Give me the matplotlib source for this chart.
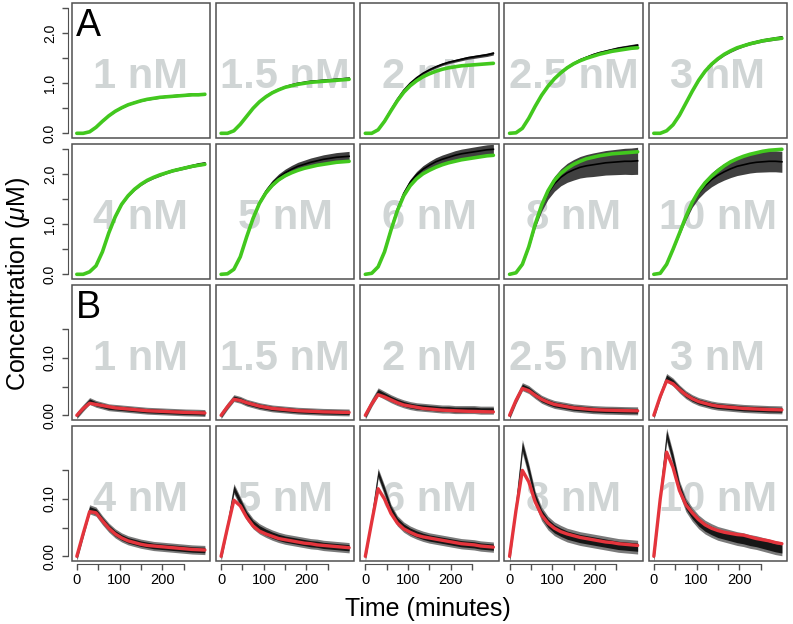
import numpy as np
import matplotlib.pyplot as plt
from matplotlib.patches import Rectangle

plt.rcParams['font.family'] = ['Liberation Sans', 'DejaVu Sans']
plt.rcParams['mathtext.fontset'] = 'custom'
plt.rcParams['mathtext.rm'] = 'Liberation Sans'
plt.rcParams['mathtext.it'] = 'Liberation Sans:italic'

time_min = [0, 15, 30, 45, 60, 75, 90, 105, 120, 135, 150, 165, 180, 195, 210, 225, 240, 255, 270, 285, 300]
conc_labels = ['1 nM', '1.5 nM', '2 nM', '2.5 nM', '3 nM', '4 nM', '5 nM', '6 nM', '8 nM', '10 nM']

# panel A: fit (green), measured mean (black) and spread (grey)
a_fit_1 = [0, 0.0, 0.03, 0.12, 0.24, 0.35, 0.44, 0.51, 0.57, 0.61, 0.65, 0.68, 0.70, 0.72, 0.73, 0.74, 0.75, 0.76, 0.77, 0.77, 0.78]
a_dat_1 = [0, 0.0, 0.03, 0.12, 0.24, 0.35, 0.44, 0.51, 0.57, 0.62, 0.65, 0.68, 0.70, 0.72, 0.74, 0.75, 0.76, 0.77, 0.78, 0.78, 0.79]
a_sd_1 = [0, 0.003, 0.005, 0.008, 0.01, 0.012, 0.013, 0.014, 0.015, 0.016, 0.017, 0.018, 0.019, 0.02, 0.021, 0.022, 0.023, 0.024, 0.025, 0.026, 0.027]

a_fit_1_5 = [0, 0.0, 0.05, 0.18, 0.34, 0.50, 0.63, 0.73, 0.81, 0.87, 0.92, 0.95, 0.98, 1.00, 1.02, 1.03, 1.04, 1.05, 1.06, 1.07, 1.08]
a_dat_1_5 = [0, 0.0, 0.05, 0.18, 0.34, 0.50, 0.63, 0.74, 0.82, 0.88, 0.93, 0.97, 1.00, 1.02, 1.04, 1.05, 1.06, 1.07, 1.08, 1.09, 1.10]
a_sd_1_5 = [0, 0.003, 0.005, 0.008, 0.01, 0.012, 0.014, 0.015, 0.016, 0.017, 0.018, 0.019, 0.02, 0.021, 0.022, 0.023, 0.024, 0.025, 0.026, 0.027, 0.028]

a_fit_2 = [0, 0.0, 0.07, 0.24, 0.45, 0.65, 0.82, 0.95, 1.05, 1.13, 1.19, 1.24, 1.28, 1.31, 1.33, 1.35, 1.36, 1.37, 1.38, 1.39, 1.40]
a_dat_2 = [0, 0.0, 0.07, 0.25, 0.47, 0.68, 0.86, 1.00, 1.11, 1.20, 1.27, 1.33, 1.38, 1.42, 1.45, 1.48, 1.51, 1.53, 1.55, 1.57, 1.60]
a_sd_2 = [0, 0.003, 0.006, 0.009, 0.012, 0.015, 0.017, 0.019, 0.021, 0.023, 0.024, 0.025, 0.026, 0.027, 0.028, 0.029, 0.03, 0.031, 0.032, 0.033, 0.034]

a_fit_2_5 = [0, 0.01, 0.10, 0.30, 0.54, 0.76, 0.94, 1.09, 1.21, 1.31, 1.39, 1.45, 1.50, 1.54, 1.58, 1.61, 1.64, 1.66, 1.68, 1.70, 1.71]
a_dat_2_5 = [0, 0.01, 0.10, 0.30, 0.54, 0.76, 0.95, 1.10, 1.22, 1.32, 1.40, 1.47, 1.52, 1.57, 1.61, 1.64, 1.67, 1.70, 1.72, 1.74, 1.76]
a_sd_2_5 = [0, 0.003, 0.006, 0.01, 0.013, 0.016, 0.019, 0.021, 0.023, 0.025, 0.027, 0.028, 0.03, 0.031, 0.032, 0.033, 0.034, 0.035, 0.036, 0.037, 0.038]

a_fit_3 = [0, 0.0, 0.05, 0.17, 0.36, 0.60, 0.84, 1.06, 1.24, 1.38, 1.49, 1.58, 1.65, 1.71, 1.75, 1.79, 1.82, 1.85, 1.87, 1.89, 1.90]
a_dat_3 = [0, 0.0, 0.05, 0.17, 0.36, 0.60, 0.84, 1.06, 1.24, 1.38, 1.49, 1.58, 1.65, 1.71, 1.76, 1.80, 1.83, 1.86, 1.88, 1.90, 1.92]
a_sd_3 = [0, 0.003, 0.006, 0.01, 0.013, 0.016, 0.019, 0.021, 0.023, 0.025, 0.027, 0.028, 0.03, 0.031, 0.032, 0.033, 0.034, 0.035, 0.036, 0.037, 0.038]

a_fit_4 = [0, 0.0, 0.05, 0.17, 0.45, 0.83, 1.15, 1.40, 1.57, 1.70, 1.80, 1.88, 1.94, 1.99, 2.03, 2.07, 2.10, 2.13, 2.16, 2.18, 2.20]
a_dat_4 = [0, 0.0, 0.05, 0.17, 0.45, 0.83, 1.15, 1.40, 1.57, 1.70, 1.80, 1.88, 1.94, 1.99, 2.04, 2.08, 2.11, 2.14, 2.17, 2.20, 2.22]
a_sd_4 = [0, 0.003, 0.006, 0.01, 0.013, 0.016, 0.019, 0.021, 0.023, 0.025, 0.026, 0.027, 0.028, 0.029, 0.03, 0.031, 0.032, 0.033, 0.034, 0.035, 0.036]

a_fit_5 = [0, 0.01, 0.10, 0.35, 0.75, 1.12, 1.42, 1.63, 1.78, 1.89, 1.97, 2.03, 2.08, 2.12, 2.15, 2.18, 2.20, 2.22, 2.24, 2.25, 2.26]
a_dat_5 = [0, 0.01, 0.10, 0.35, 0.75, 1.13, 1.44, 1.66, 1.82, 1.94, 2.03, 2.10, 2.16, 2.20, 2.24, 2.27, 2.30, 2.32, 2.34, 2.35, 2.36]
a_sd_5 = [0, 0.003, 0.008, 0.015, 0.025, 0.035, 0.045, 0.055, 0.062, 0.068, 0.073, 0.077, 0.08, 0.083, 0.086, 0.088, 0.09, 0.092, 0.094, 0.096, 0.098]

a_fit_6 = [0, 0.02, 0.15, 0.45, 0.88, 1.27, 1.57, 1.77, 1.91, 2.01, 2.08, 2.14, 2.19, 2.23, 2.26, 2.29, 2.31, 2.33, 2.35, 2.37, 2.38]
a_dat_6 = [0, 0.02, 0.15, 0.46, 0.90, 1.30, 1.62, 1.84, 1.99, 2.10, 2.18, 2.25, 2.30, 2.34, 2.38, 2.41, 2.43, 2.45, 2.47, 2.49, 2.50]
a_sd_6 = [0, 0.003, 0.008, 0.016, 0.027, 0.038, 0.048, 0.058, 0.066, 0.072, 0.077, 0.081, 0.085, 0.088, 0.091, 0.093, 0.095, 0.097, 0.099, 0.1, 0.1]

a_fit_8 = [0, 0.03, 0.20, 0.55, 1.00, 1.38, 1.67, 1.88, 2.02, 2.12, 2.20, 2.26, 2.31, 2.34, 2.37, 2.39, 2.41, 2.42, 2.43, 2.44, 2.45]
a_dat_8 = [0, 0.03, 0.20, 0.55, 0.99, 1.35, 1.62, 1.81, 1.94, 2.03, 2.09, 2.14, 2.17, 2.19, 2.21, 2.23, 2.24, 2.25, 2.26, 2.26, 2.27]
a_sd_8 = [0, 0.005, 0.015, 0.035, 0.06, 0.09, 0.12, 0.15, 0.17, 0.19, 0.205, 0.215, 0.225, 0.235, 0.24, 0.245, 0.25, 0.255, 0.26, 0.265, 0.27]

a_fit_10 = [0, 0.02, 0.20, 0.50, 0.82, 1.15, 1.44, 1.66, 1.83, 1.96, 2.07, 2.17, 2.25, 2.31, 2.36, 2.40, 2.43, 2.46, 2.48, 2.49, 2.50]
a_dat_10 = [0, 0.02, 0.20, 0.50, 0.82, 1.14, 1.42, 1.62, 1.77, 1.89, 1.98, 2.05, 2.11, 2.16, 2.19, 2.22, 2.24, 2.25, 2.26, 2.26, 2.25]
a_sd_10 = [0, 0.005, 0.012, 0.025, 0.04, 0.06, 0.08, 0.1, 0.12, 0.14, 0.155, 0.165, 0.175, 0.185, 0.19, 0.195, 0.2, 0.205, 0.21, 0.21, 0.21]

# panel B: intermediate, fit (red) and measured (black, noisy)
b_fit_1 = [0, 0.012, 0.021, 0.019, 0.017, 0.015, 0.013, 0.012, 0.011, 0.010, 0.009, 0.008, 0.0075, 0.007, 0.0065, 0.006, 0.0055, 0.005, 0.0048, 0.0045, 0.004]
b_dat_1 = [0, 0.013, 0.025, 0.020, 0.017, 0.014, 0.013, 0.012, 0.011, 0.010, 0.009, 0.008, 0.0075, 0.007, 0.0065, 0.006, 0.0055, 0.005, 0.0048, 0.0045, 0.004]
b_fit_1_5 = [0, 0.015, 0.028, 0.026, 0.022, 0.019, 0.016, 0.014, 0.012, 0.011, 0.010, 0.009, 0.008, 0.0075, 0.007, 0.0065, 0.006, 0.0058, 0.0055, 0.0052, 0.005]
b_dat_1_5 = [0, 0.016, 0.030, 0.027, 0.022, 0.019, 0.016, 0.014, 0.012, 0.011, 0.010, 0.009, 0.008, 0.0075, 0.007, 0.0065, 0.006, 0.0058, 0.0055, 0.0052, 0.005]
b_fit_2 = [0, 0.020, 0.036, 0.032, 0.027, 0.022, 0.018, 0.016, 0.014, 0.012, 0.011, 0.010, 0.009, 0.0085, 0.008, 0.0075, 0.007, 0.0068, 0.0065, 0.0062, 0.006]
b_dat_2 = [0, 0.022, 0.041, 0.035, 0.029, 0.024, 0.020, 0.017, 0.015, 0.014, 0.013, 0.012, 0.011, 0.011, 0.010, 0.010, 0.010, 0.010, 0.009, 0.009, 0.009]
b_fit_2_5 = [0, 0.026, 0.047, 0.043, 0.035, 0.028, 0.023, 0.019, 0.017, 0.015, 0.013, 0.012, 0.011, 0.010, 0.0095, 0.009, 0.0088, 0.0085, 0.0082, 0.008, 0.0078]
b_dat_2_5 = [0, 0.027, 0.050, 0.045, 0.036, 0.028, 0.023, 0.019, 0.017, 0.015, 0.013, 0.012, 0.011, 0.010, 0.0095, 0.009, 0.0088, 0.0085, 0.0082, 0.008, 0.0078]
b_fit_3 = [0, 0.033, 0.060, 0.055, 0.045, 0.036, 0.029, 0.024, 0.021, 0.018, 0.016, 0.015, 0.014, 0.013, 0.012, 0.0115, 0.011, 0.0105, 0.010, 0.0098, 0.0095]
b_dat_3 = [0, 0.035, 0.066, 0.058, 0.046, 0.036, 0.029, 0.024, 0.021, 0.018, 0.016, 0.015, 0.014, 0.013, 0.012, 0.0115, 0.011, 0.0105, 0.010, 0.0098, 0.0095]
b_fit_4 = [0, 0.040, 0.078, 0.076, 0.062, 0.049, 0.039, 0.032, 0.027, 0.024, 0.021, 0.019, 0.018, 0.017, 0.016, 0.015, 0.014, 0.013, 0.012, 0.0115, 0.011]
b_dat_4 = [0, 0.041, 0.082, 0.078, 0.063, 0.050, 0.040, 0.033, 0.028, 0.025, 0.022, 0.020, 0.018, 0.017, 0.016, 0.015, 0.014, 0.013, 0.012, 0.0115, 0.011]
b_fit_5 = [0, 0.050, 0.098, 0.088, 0.068, 0.053, 0.044, 0.039, 0.035, 0.031, 0.029, 0.027, 0.025, 0.023, 0.022, 0.020, 0.019, 0.018, 0.017, 0.016, 0.015]
b_dat_5 = [0, 0.055, 0.118, 0.095, 0.072, 0.057, 0.048, 0.042, 0.037, 0.033, 0.030, 0.028, 0.026, 0.024, 0.022, 0.021, 0.019, 0.018, 0.017, 0.016, 0.015]
b_fit_6 = [0, 0.060, 0.118, 0.100, 0.075, 0.058, 0.048, 0.042, 0.037, 0.034, 0.032, 0.030, 0.028, 0.026, 0.024, 0.022, 0.021, 0.020, 0.018, 0.017, 0.016]
b_dat_6 = [0, 0.068, 0.145, 0.115, 0.082, 0.062, 0.051, 0.044, 0.039, 0.035, 0.032, 0.030, 0.028, 0.026, 0.024, 0.022, 0.021, 0.020, 0.018, 0.017, 0.016]
b_fit_8 = [0, 0.080, 0.150, 0.130, 0.095, 0.072, 0.058, 0.049, 0.043, 0.039, 0.036, 0.033, 0.031, 0.029, 0.027, 0.025, 0.024, 0.022, 0.021, 0.020, 0.019]
b_dat_8 = [0, 0.090, 0.192, 0.150, 0.102, 0.074, 0.058, 0.048, 0.042, 0.037, 0.034, 0.031, 0.029, 0.027, 0.025, 0.023, 0.021, 0.019, 0.018, 0.017, 0.016]
b_fit_10 = [0, 0.100, 0.182, 0.155, 0.115, 0.090, 0.076, 0.064, 0.055, 0.049, 0.045, 0.042, 0.040, 0.038, 0.037, 0.034, 0.031, 0.029, 0.027, 0.024, 0.022]
b_dat_10 = [0, 0.110, 0.212, 0.170, 0.120, 0.090, 0.073, 0.060, 0.051, 0.045, 0.040, 0.037, 0.034, 0.031, 0.029, 0.026, 0.024, 0.021, 0.018, 0.015, 0.013]
b_noise = [0.006, 0.006, 0.007, 0.007, 0.007, 0.008, 0.009, 0.009, 0.012, 0.012]

a_fit = [a_fit_1, a_fit_1_5, a_fit_2, a_fit_2_5, a_fit_3, a_fit_4, a_fit_5, a_fit_6, a_fit_8, a_fit_10]
a_dat = [a_dat_1, a_dat_1_5, a_dat_2, a_dat_2_5, a_dat_3, a_dat_4, a_dat_5, a_dat_6, a_dat_8, a_dat_10]
a_sd = [a_sd_1, a_sd_1_5, a_sd_2, a_sd_2_5, a_sd_3, a_sd_4, a_sd_5, a_sd_6, a_sd_8, a_sd_10]
b_fit = [b_fit_1, b_fit_1_5, b_fit_2, b_fit_2_5, b_fit_3, b_fit_4, b_fit_5, b_fit_6, b_fit_8, b_fit_10]
b_dat = [b_dat_1, b_dat_1_5, b_dat_2, b_dat_2_5, b_dat_3, b_dat_4, b_dat_5, b_dat_6, b_dat_8, b_dat_10]

green = '#42c81e'
red = '#e4343c'
label_grey = '#d0d5d5'
frame = '#505050'

W, H = 793, 624
fig = plt.figure(figsize=(W / 100, H / 100), dpi=100)
col_left = 71.7
col_pitch = 144.25
col_w = 138.3
row_top = 3.3
row_pitch = 141
row_h = 135

t = np.array(time_min)
for row in range(4):
    for col in range(5):
        x0 = col_left + col * col_pitch
        y0 = row_top + row * row_pitch
        ax = fig.add_axes([x0 / W, 1 - (y0 + row_h) / H, col_w / W, row_h / H])
        k = (row % 2) * 5 + col
        if row < 2:
            d = np.array(a_dat[k])
            s = np.array(a_sd[k])
            ax.fill_between(t, d - s, d + s, color='#404040', lw=0)
            ax.plot(t, d, color='black', lw=1.2)
            ax.plot(t, a_fit[k], color=green, lw=2.6, solid_capstyle='round')
            ax.set_ylim(-0.1, 2.6)
            yt = [0, 0.5, 1.0, 1.5, 2.0, 2.5]
            ytl = ['0.0', '', '1.0', '', '2.0', '']
        else:
            d = np.array(b_dat[k])
            n = b_noise[k]
            ax.fill_between(t, d - n, d + n, color='#7a7a7a', lw=0)
            ax.fill_between(t, d - n * 0.6, d + n * 0.6, color='#161616', lw=0)
            ax.plot(t, b_fit[k], color=red, lw=2.4, solid_capstyle='round')
            ax.set_ylim(-0.0087, 0.227)
            yt = [0, 0.05, 0.10, 0.15]
            ytl = ['0.00', '', '0.10', '']
        ax.set_xlim(-12, 312)
        ax.text(0.5, 0.37, conc_labels[k], transform=ax.transAxes, ha='center', va='baseline',
                fontsize=30, fontweight='bold', color=label_grey, zorder=0)
        for sp in ax.spines.values():
            sp.set_visible(False)
        ax.add_patch(Rectangle((0, 0), 1, 1, transform=ax.transAxes, fill=False,
                               ec=frame, lw=1.1, clip_on=False, zorder=5))
        if col == 0:
            ax.spines['left'].set_visible(True)
            ax.spines['left'].set_position(('outward', 2.6))
            ax.spines['left'].set_bounds(yt[0], yt[-1])
            ax.spines['left'].set_color(frame)
            ax.set_yticks(yt)
            ax.set_yticklabels(ytl, rotation=90, va='center')
            ax.tick_params(axis='y', length=4, width=1, color=frame, labelsize=10, pad=4)
        else:
            ax.set_yticks([])
        if row == 3:
            xt = [0, 50, 100, 150, 200, 250]
            ax.spines['bottom'].set_visible(True)
            ax.spines['bottom'].set_position(('outward', 2.2))
            ax.spines['bottom'].set_bounds(0, 250)
            ax.spines['bottom'].set_color(frame)
            ax.set_xticks(xt)
            ax.set_xticklabels(['0', '', '100', '', '200', ''])
            ax.tick_params(axis='x', length=4, width=1, color=frame, labelsize=10.5, pad=2.5)
        else:
            ax.set_xticks([])
        if col == 0 and row in (0, 2):
            ax.text(0.03, 0.755, 'A' if row == 0 else 'B', transform=ax.transAxes,
                    ha='left', va='baseline', fontsize=27, color='black')

fig.text(0.0227, 0.545, r'Concentration ($\mu$M)', rotation=90, ha='center', va='center', fontsize=18)
fig.text(0.540, 0.0128, 'Time (minutes)', ha='center', va='baseline', fontsize=18)

fig.savefig('out.png', dpi=100)
